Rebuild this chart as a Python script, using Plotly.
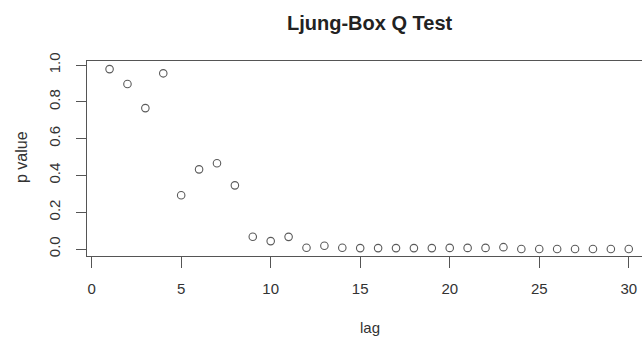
import plotly.graph_objects as go

lags = list(range(1, 31))
p_values = [0.978, 0.897, 0.766, 0.955, 0.292, 0.433, 0.466, 0.346, 0.067, 0.043,
            0.066, 0.007, 0.018, 0.007, 0.005, 0.005, 0.005, 0.005, 0.005, 0.006,
            0.006, 0.006, 0.010, 0.000, 0.000, 0.000, 0.000, 0.000, 0.000, 0.000]
x_ticks = [0, 5, 10, 15, 20, 25, 30]
y_ticks = [0.0, 0.2, 0.4, 0.6, 0.8, 1.0]
y_tick_labels = ["0.0", "0.2", "0.4", "0.6", "0.8", "1.0"]

W, H = 642, 338
L, R, T, B = 87, 0, 61, 82
PW, PH = W - L - R, H - T - B


def px(xp):
    return (xp - L) / PW


def py(yp):
    return (H - B - yp) / PH


fig = go.Figure()
fig.add_trace(go.Scatter(
    x=lags, y=p_values, mode="markers",
    marker=dict(symbol="circle-open", size=7.5, color="#5a5a5a", line=dict(width=1.1)),
    showlegend=False, cliponaxis=False,
))

font_family = "Liberation Sans, Arial, sans-serif"
fig.update_layout(
    width=W, height=H,
    margin=dict(l=L, r=R, t=T, b=B),
    paper_bgcolor="white", plot_bgcolor="white",
    font=dict(family=font_family, size=15, color="#333333"),
    annotations=[
        dict(text="<b>Ljung-Box Q Test</b>", x=px(370), y=py(23),
             xref="paper", yref="paper", xanchor="center", yanchor="middle",
             showarrow=False, font=dict(size=20, color="#222222", family=font_family)),
        dict(text="lag", x=px(370), y=py(337), borderpad=0,
             xref="paper", yref="paper", xanchor="center", yanchor="bottom",
             showarrow=False, font=dict(size=15, color="#333333", family=font_family)),
        dict(text="p value", x=px(21), y=py(157), textangle=-90,
             xref="paper", yref="paper", xanchor="center", yanchor="middle",
             showarrow=False, font=dict(size=16, color="#333333", family=font_family)),
    ],
)
fig.update_xaxes(
    range=[-0.26, 30.74], showgrid=False, zeroline=False,
    showline=True, linecolor="#555555", linewidth=1.3, mirror=True,
    ticks="outside", ticklen=11, tickcolor="#555555", tickwidth=1.2,
    tickvals=x_ticks, ticklabelstandoff=8,
    tickfont=dict(size=15, color="#333333"),
)
fig.update_yaxes(
    range=[-0.038, 1.022], showgrid=False, zeroline=False,
    showline=True, linecolor="#555555", linewidth=1.3, mirror=False,
    ticks="outside", ticklen=10, tickcolor="#555555", tickwidth=1.2,
    tickvals=y_ticks, ticktext=y_tick_labels, tickangle=-90,
    ticklabelstandoff=10,
    tickfont=dict(size=15, color="#333333"),
)

fig.write_html("out.html")
